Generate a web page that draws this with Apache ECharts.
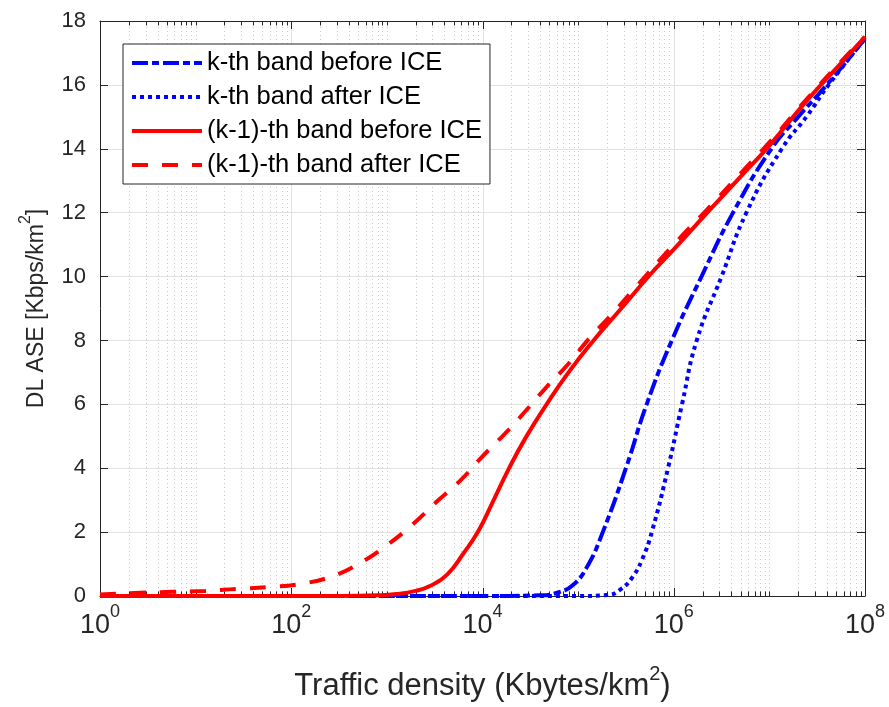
<!DOCTYPE html>
<html>
<head>
<meta charset="utf-8">
<title>DL ASE vs traffic density</title>
<script src="https://cdn.jsdelivr.net/npm/echarts@6/dist/echarts.min.js"></script>
<style>
  html, body { margin: 0; padding: 0; background: #fff; }
  #chart { width: 889px; height: 707px; }
</style>
</head>
<body>
<div id="chart"></div>
<script>
// traffic density (Kbytes/km^2) -> DL ASE (Kbps/km^2)
const kBeforeX = [1, 1e4, 4.0e4, 6.3e4, 8.9e4, 1.26e5, 1.81e5, 3.16e5, 5.21e5, 9.55e5, 1.95e6, 4.17e6, 1.05e7, 2.0e7, 3.98e7, 1e8]
const kBeforeY = [0, 0, 0.02, 0.12, 0.35, 0.95, 2, 4, 6, 8, 10, 12, 14, 15, 16, 17.45]

const kAfterX = [1, 1e5, 2.0e5, 2.82e5, 3.72e5, 4.68e5, 5.89e5, 8.71e5, 1.22e6, 1.74e6, 3.16e6, 5.75e6, 1.35e7, 2.51e7, 4.17e7, 1e8]
const kAfterY = [0, 0, 0.03, 0.22, 0.6, 1.15, 2, 4, 6, 8, 10, 12, 14, 15.05, 16, 17.45]

const k1BeforeX = [1, 10, 100, 316, 794, 1259, 1995, 2818, 4266, 6310, 9120, 1.26e4, 1.86e4, 2.82e4, 4.68e4, 7.94e4, 1.45e5, 2.82e5, 5.62e5, 1e6, 2.24e6, 4.9e6, 1e7, 2.45e7, 5.5e7, 1e8]
const k1BeforeY = [0, 0, 0, 0, 0.02, 0.06, 0.16, 0.31, 0.67, 1.33, 2.05, 2.9, 3.95, 4.95, 6.0, 7.0, 8.0, 9.0, 10.05, 10.85, 12.0, 13.1, 14.1, 15.5, 16.65, 17.5]

const k1AfterX = [1, 2.63, 5.75, 12.6, 26.9, 58.9, 126, 269, 537, 1000, 1862, 3311, 5888, 9772, 1.7e4, 2.82e4, 4.57e4, 7.76e4, 1.29e5, 2.24e5, 3.8e5, 1e6, 2.24e6, 4.9e6, 1e7, 2.45e7, 5.5e7, 1e8]
const k1AfterY = [0.05, 0.1, 0.13, 0.16, 0.22, 0.28, 0.38, 0.62, 1.05, 1.59, 2.24, 2.95, 3.62, 4.34, 5.07, 5.79, 6.51, 7.24, 8.04, 8.81, 9.59, 11.0, 12.1, 13.2, 14.2, 15.55, 16.7, 17.5]

const seriesNames = ['k-th band before ICE', 'k-th band after ICE', '(k-1)-th band before ICE', '(k-1)-th band after ICE']

const xMin = 1
const xMax = 1e8
const yMin = 0
const yMax = 18

const FONT = '"Liberation Sans", Arial, Helvetica, sans-serif'
const AXIS_COLOR = '#262626'

function zip(xs, ys) {
  return xs.map((x, i) => [x, ys[i]])
}

// log grid positions: decades with labels (even exponents) are major, the rest minor
const gridTicks = []
for (let d = 0; d <= 8; d++) {
  for (let k = 1; k <= 9; k++) {
    const v = k * Math.pow(10, d)
    if (v > xMax) break
    gridTicks.push([v, k === 1 && d % 2 === 0 ? 1 : 0])
  }
}

function renderGrid(params, api) {
  const v = api.value(0)
  const major = api.value(1) === 1
  const bottom = api.coord([v, yMin])
  const top = api.coord([v, yMax])
  const x = Math.round(bottom[0]) + 0.5
  const children = []
  if (v > xMin && v < xMax) {
    children.push({
      type: 'line',
      shape: { x1: x, y1: bottom[1], x2: x, y2: top[1] },
      style: major
        ? { stroke: '#e2e2e2', lineWidth: 1 }
        : { stroke: '#c8c8c8', lineWidth: 1, lineDash: [1, 3] },
    })
  }
  const len = major ? 8 : 4.5
  children.push({ type: 'line', shape: { x1: x, y1: bottom[1], x2: x, y2: bottom[1] - len }, style: { stroke: AXIS_COLOR, lineWidth: 1 } })
  children.push({ type: 'line', shape: { x1: x, y1: top[1], x2: x, y2: top[1] + len }, style: { stroke: AXIS_COLOR, lineWidth: 1 } })
  return { type: 'group', children }
}

function lineSeries(name, data, color, dash) {
  return {
    name,
    type: 'line',
    data,
    symbol: 'none',
    smooth: 0.5,
    z: 3,
    itemStyle: { color },
    lineStyle: { color, width: 4, type: dash, cap: 'butt' },
    emphasis: { disabled: true },
  }
}

const chart = echarts.init(document.getElementById('chart'))

const option = {
  animation: false,
  backgroundColor: '#fff',
  textStyle: { fontFamily: FONT },
  grid: { left: 100, top: 21, width: 765, height: 582, containLabel: false },
  legend: {
    orient: 'vertical',
    left: 123,
    top: 44,
    padding: [6, 8, 6, 7],
    itemGap: 8,
    itemWidth: 70,
    itemHeight: 14,
    backgroundColor: '#fff',
    borderColor: AXIS_COLOR,
    borderWidth: 1,
    borderRadius: 0,
    itemStyle: { opacity: 0 },
    lineStyle: { width: 4 },
    textStyle: { fontSize: 25.5, lineHeight: 26, color: '#000', fontFamily: FONT },
    data: seriesNames,
  },
  xAxis: [
    {
      type: 'log',
      logBase: 10,
      min: xMin,
      max: xMax,
      axisLine: { show: true, lineStyle: { color: AXIS_COLOR, width: 1 } },
      axisTick: { show: false },
      splitLine: { show: false },
      minorTick: { show: false },
      axisLabel: {
        margin: 7,
        color: AXIS_COLOR,
        formatter: (v) => {
          const e = Math.round(Math.log10(v))
          return e % 2 === 0 ? '{b|10}{s|' + e + '}' : ''
        },
        rich: {
          b: { fontSize: 27, lineHeight: 36, verticalAlign: 'bottom', color: AXIS_COLOR, fontFamily: FONT },
          s: { fontSize: 18, lineHeight: 18, verticalAlign: 'top', color: AXIS_COLOR, fontFamily: FONT },
        },
      },
      name: '{a|Traffic density (Kbytes/km}{s|2}{a|)}',
      nameLocation: 'middle',
      nameGap: 68,
      nameTextStyle: {
        rich: {
          a: { fontSize: 31, lineHeight: 38, verticalAlign: 'bottom', color: AXIS_COLOR, fontFamily: FONT },
          s: { fontSize: 20, lineHeight: 20, verticalAlign: 'top', color: AXIS_COLOR, fontFamily: FONT },
        },
      },
    },
    {
      type: 'log',
      logBase: 10,
      min: xMin,
      max: xMax,
      position: 'top',
      axisLine: { show: true, onZero: false, lineStyle: { color: AXIS_COLOR, width: 1 } },
      axisTick: { show: false },
      axisLabel: { show: false },
      splitLine: { show: false },
    },
  ],
  yAxis: [
    {
      type: 'value',
      min: yMin,
      max: yMax,
      interval: 2,
      axisLine: { show: true, lineStyle: { color: AXIS_COLOR, width: 1 } },
      axisTick: { show: true, inside: true, length: 8, lineStyle: { color: AXIS_COLOR } },
      axisLabel: { fontSize: 22, color: AXIS_COLOR, margin: 14, fontFamily: FONT },
      splitLine: { show: true, lineStyle: { color: '#e2e2e2', width: 1 } },
      name: '{a|DL ASE [Kbps/km}{s|2}{a|]}',
      nameLocation: 'middle',
      nameGap: 52,
      nameTextStyle: {
        rich: {
          a: { fontSize: 23, lineHeight: 30, verticalAlign: 'bottom', color: AXIS_COLOR, fontFamily: FONT },
          s: { fontSize: 16, lineHeight: 16, verticalAlign: 'top', color: AXIS_COLOR, fontFamily: FONT },
        },
      },
    },
    {
      type: 'value',
      min: yMin,
      max: yMax,
      interval: 2,
      position: 'right',
      axisLine: { show: true, onZero: false, lineStyle: { color: AXIS_COLOR, width: 1 } },
      axisTick: { show: true, inside: true, length: 8, lineStyle: { color: AXIS_COLOR } },
      axisLabel: { show: false },
      splitLine: { show: false },
    },
  ],
  series: [
    {
      type: 'custom',
      xAxisIndex: 0,
      yAxisIndex: 0,
      silent: true,
      z: 1,
      renderItem: renderGrid,
      data: gridTicks,
      clip: false,
    },
    lineSeries(seriesNames[0], zip(kBeforeX, kBeforeY), '#0000ff', [16, 4, 7, 4]),
    lineSeries(seriesNames[1], zip(kAfterX, kAfterY), '#0000ff', [4, 4]),
    lineSeries(seriesNames[2], zip(k1BeforeX, k1BeforeY), '#ff0000', 'solid'),
    lineSeries(seriesNames[3], zip(k1AfterX, k1AfterY), '#ff0000', [16, 14]),
  ],
}

chart.setOption(option)
</script>
</body>
</html>
